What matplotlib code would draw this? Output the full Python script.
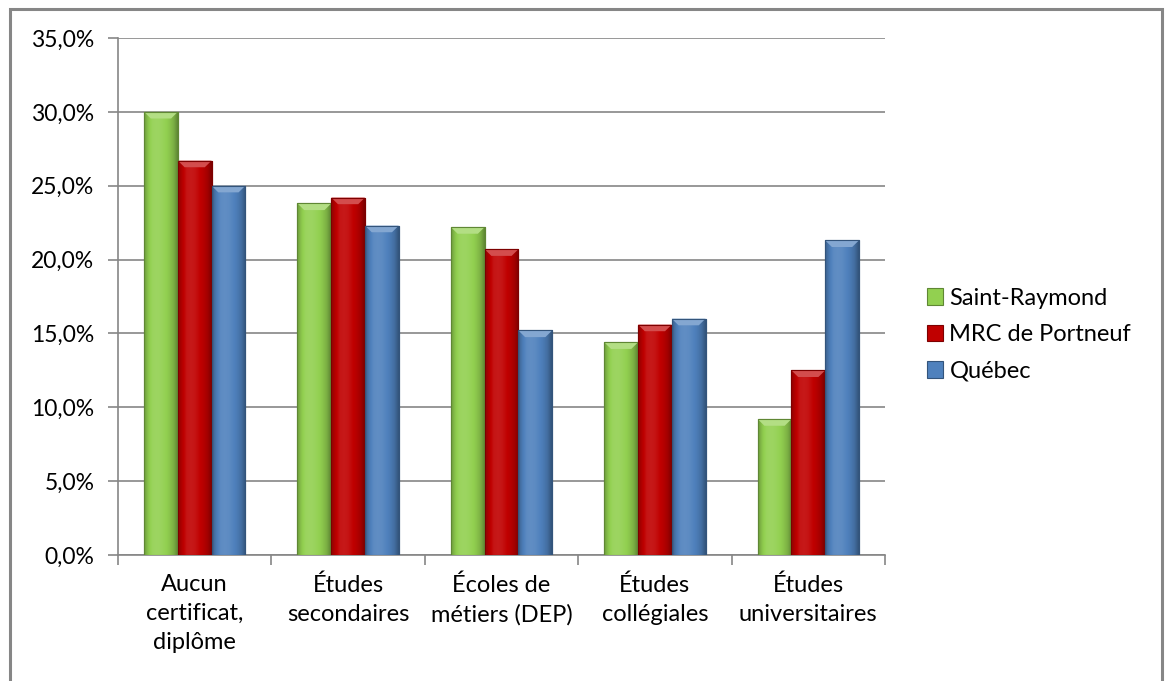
import numpy as np
import matplotlib.pyplot as plt
from matplotlib.patches import Rectangle, Polygon
from matplotlib.colors import to_rgb

plt.rcParams['font.family'] = ['Lato', 'DejaVu Sans']

categories = ['Aucun\ncertificat,\ndiplôme', 'Études\nsecondaires', 'Écoles de\nmétiers (DEP)',
              'Études\ncollégiales', 'Études\nuniversitaires']
series = ['Saint-Raymond', 'MRC de Portneuf', 'Québec']
saint_raymond = [30.0, 23.8, 22.2, 14.4, 9.2]
portneuf = [26.7, 24.2, 20.7, 15.6, 12.5]
quebec = [25.0, 22.3, 15.2, 16.0, 21.3]
colors = ['#92D050', '#C00000', '#4F81BD']

fig = plt.figure(figsize=(11.66, 6.81), dpi=100)
ax = fig.add_axes([118/1166, 1-555/681, (885-118)/1166, (555-38)/681])

# outer frame of the chart
fig.patches.append(Rectangle((9.5/1166, -0.02), (1162-9.5)/1166, 1.02-8.5/681,
                             transform=fig.transFigure, fill=False,
                             edgecolor='#868686', lw=2.2, zorder=0))

x = np.arange(len(categories))
w = 0.22


def shade(c, f):
    r = np.array(to_rgb(c))
    if f >= 0:
        return tuple(r + (1 - r) * f)
    return tuple(r * (1 + f))


for i, (vals, c) in enumerate(zip([saint_raymond, portneuf, quebec], colors)):
    bars = ax.bar(x + (i - 1) * w, vals, w, color=c, edgecolor=shade(c, -0.35),
                  lw=0.8, label=series[i], zorder=3)
    # horizontal gradient (bevel look)
    prof = np.array([-0.25, -0.05, 0.08, 0.1, 0.08, 0.02, -0.05, -0.15, -0.35])
    grad = np.array([[shade(c, f) for f in np.interp(np.linspace(0, 1, 60),
                                                     np.linspace(0, 1, len(prof)), prof)]])
    for b in bars:
        x0, h = b.get_x(), b.get_height()
        im = ax.imshow(grad, extent=(x0, x0 + w, 0, h), aspect='auto', zorder=3.5,
                       interpolation='bicubic')
        im.set_clip_path(b)
        top = h - 0.45
        ax.add_patch(Polygon([(x0, h), (x0 + w, h), (x0 + w * 0.8, top), (x0 + w * 0.2, top)],
                             closed=True, color=shade(c, 0.3), lw=0, zorder=4))
        ax.add_patch(Rectangle((x0, 0), w, h, fill=False, edgecolor=shade(c, -0.35),
                               lw=0.8, zorder=4.5))

ax.set_xlim(-0.5, 4.5)
ax.set_ylim(0, 35)
ax.set_yticks(np.arange(0, 36, 5))
ax.set_yticklabels([f'{v:.1f}%'.replace('.', ',') for v in np.arange(0, 36, 5)])
ax.set_xticks(np.arange(-0.5, 5, 1))
ax.set_xticklabels([])
ax.set_xticks(x, minor=True)
ax.set_xticklabels(categories, minor=True, fontsize=17, linespacing=1.45, va='top')
ax.tick_params(axis='x', which='minor', length=0, pad=14)
ax.tick_params(axis='x', which='major', length=7, color='#868686', width=1.2)
ax.tick_params(axis='y', length=7, color='#868686', width=1.2, labelsize=16.5, pad=10)

ax.grid(axis='y', color='#868686', lw=1.2, zorder=0)
for s in ['top', 'right']:
    ax.spines[s].set_visible(False)
for s in ['left', 'bottom']:
    ax.spines[s].set_color('#868686')
    ax.spines[s].set_linewidth(1.2)

ax.legend(loc='center left', bbox_to_anchor=(1.027, 0.426), frameon=False, fontsize=17,
          handlelength=0.7, handleheight=0.7, handletextpad=0.25, labelspacing=0.65)

fig.savefig('out.png', dpi=100)
